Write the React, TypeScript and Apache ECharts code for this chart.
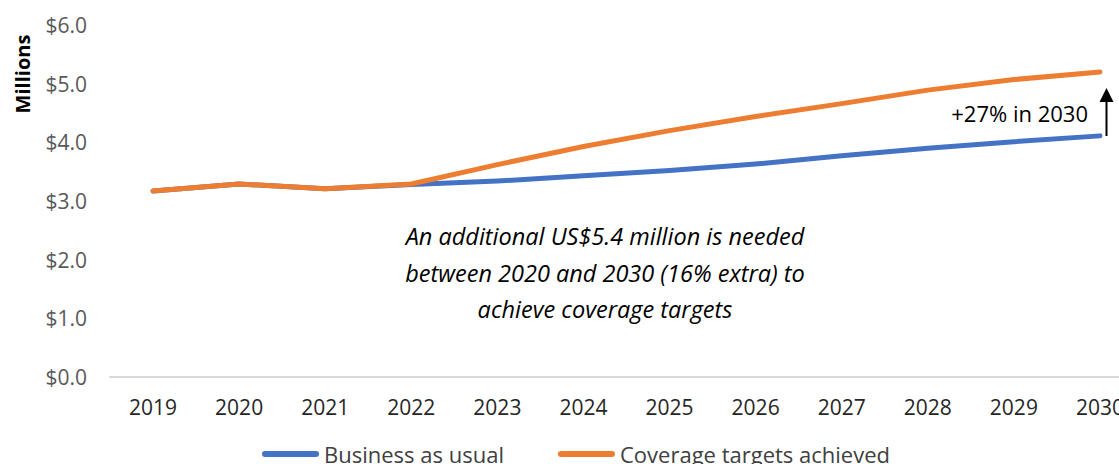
import React, { useEffect, useRef } from "react";
import * as echarts from "echarts";

const years = ["2019", "2020", "2021", "2022", "2023", "2024", "2025", "2026", "2027", "2028", "2029", "2030"];
const businessAsUsual = [3.17, 3.29, 3.21, 3.28, 3.34, 3.43, 3.52, 3.63, 3.77, 3.9, 4.01, 4.11];
const coverageTargets = [3.17, 3.29, 3.21, 3.29, 3.62, 3.93, 4.2, 4.44, 4.66, 4.89, 5.07, 5.2];
const seriesNames = ["Business as usual", "Coverage targets achieved"];
const annotationLines = [
  "An additional US$5.4 million is needed",
  "between 2020 and 2030 (16% extra) to",
  "achieve coverage targets",
];
const growthLabel = "+27% in 2030";
const axisName = "Millions";

const FONT = "'Open Sans', 'Noto Sans', sans-serif";
const BLUE = "#4472C4";
const ORANGE = "#ED7D31";
const pill = "path://M3,0 L54,0 A3,3 0 0 1 54,6 L3,6 A3,3 0 0 1 3,0 Z";

export default function App() {
  const ref = useRef<HTMLDivElement>(null);
  useEffect(() => {
    if (!ref.current) return;
    const chart = echarts.init(ref.current, undefined, { renderer: "svg" });
    const legendBase = {
      top: 443,
      padding: 0,
      icon: pill,
      itemWidth: 57,
      itemHeight: 6,
      itemGap: 0,
      textStyle: { color: "#404040", fontFamily: FONT, fontSize: 22 },
    };
    chart.setOption({
      animation: false,
      backgroundColor: "#ffffff",
      grid: { left: 110, right: 17, top: 25, bottom: 87, containLabel: false },
      xAxis: {
        type: "category",
        data: years,
        boundaryGap: true,
        axisLine: { lineStyle: { color: "#d9d9d9", width: 2 } },
        axisTick: { show: false },
        axisLabel: { color: "#262626", fontFamily: FONT, fontSize: 21, margin: 19 },
        splitLine: { show: false },
      },
      yAxis: {
        type: "value",
        min: 0,
        max: 6,
        interval: 1,
        axisLine: { show: false },
        axisTick: { show: false },
        splitLine: { show: false },
        axisLabel: {
          color: "#595959",
          fontFamily: FONT,
          fontSize: 21,
          margin: 23,
          formatter: (v: number) => "$" + v.toFixed(1),
        },
      },
      legend: [
        { ...legendBase, left: 262, data: [seriesNames[0]] },
        { ...legendBase, left: 558, data: [seriesNames[1]] },
      ],
      series: [
        {
          name: seriesNames[0],
          type: "line",
          data: businessAsUsual,
          showSymbol: false,
          symbol: "none",
          color: BLUE,
          lineStyle: { color: BLUE, width: 5, cap: "round", join: "round" },
          z: 2,
        },
        {
          name: seriesNames[1],
          type: "line",
          data: coverageTargets,
          showSymbol: false,
          symbol: "none",
          color: ORANGE,
          lineStyle: { color: ORANGE, width: 5, cap: "round", join: "round" },
          z: 3,
        },
      ],
      graphic: [
        {
          type: "text",
          x: 22,
          y: 74,
          rotation: Math.PI / 2,
          style: {
            text: axisName,
            fontFamily: FONT,
            fontSize: 20,
            fontWeight: "bold",
            fill: "#000",
            align: "center",
            verticalAlign: "middle",
          },
        },
        {
          type: "text",
          x: 605,
          y: 218,
          style: {
            text: annotationLines.join("\n"),
            fontFamily: FONT,
            fontSize: 23.5,
            fontStyle: "italic",
            fill: "#000",
            align: "center",
            verticalAlign: "top",
            lineHeight: 36.5,
          },
        },
        {
          type: "text",
          x: 1088,
          y: 113,
          style: {
            text: growthLabel,
            fontFamily: FONT,
            fontSize: 22,
            fill: "#000",
            align: "right",
            verticalAlign: "middle",
          },
        },
        {
          type: "line",
          shape: { x1: 1106.5, y1: 136, x2: 1106.5, y2: 100 },
          style: { stroke: "#000", lineWidth: 2 },
        },
        {
          type: "polygon",
          shape: { points: [[1106.5, 88], [1099.5, 102], [1113.5, 102]] },
          style: { fill: "#000" },
        },
      ],
    });
    return () => chart.dispose();
  }, []);
  return (
    <div style={{ position: "fixed", left: 0, top: 0, width: 1119, height: 464, overflow: "hidden", background: "#fff" }}>
      <div ref={ref} style={{ width: 1160, height: 464 }} />
    </div>
  );
}
